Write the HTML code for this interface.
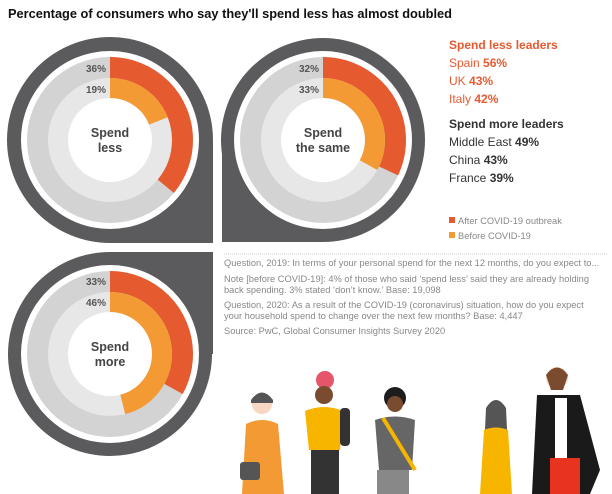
<!DOCTYPE html>
<html><head><meta charset="utf-8"><style>
body{margin:0;background:#fff;}
svg{display:block;font-family:"Liberation Sans",Arial,sans-serif;}
</style></head><body>
<svg width="612" height="494" viewBox="0 0 612 494" xmlns="http://www.w3.org/2000/svg">
<text x="8" y="18" font-size="12.8" font-weight="bold" fill="#111">Percentage of consumers who say they'll spend less has almost doubled</text>

<!-- chart 1 -->
<g fill="#5b5b5d"><circle cx="110" cy="140" r="103"/><rect x="110" y="140" width="103" height="103"/></g>
<circle cx="110" cy="140" r="89" fill="#fff"/>
<circle cx="110" cy="140" r="83" fill="#d3d3d4"/>
<circle cx="110" cy="140" r="62" fill="#e7e7e8"/>
<circle cx="110" cy="140" r="42" fill="#fff"/>
<circle cx="110" cy="140" r="72.5" fill="none" stroke="#e65a30" stroke-width="21" stroke-dasharray="164 1000" transform="rotate(-90 110 140)"/>
<circle cx="110" cy="140" r="52" fill="none" stroke="#f39a34" stroke-width="20" stroke-dasharray="62.1 1000" transform="rotate(-90 110 140)"/>
<text x="106" y="72" font-size="10" font-weight="bold" fill="#555" text-anchor="end">36%</text>
<text x="106" y="93" font-size="10" font-weight="bold" fill="#555" text-anchor="end">19%</text>
<text x="110" y="137" font-size="12.5" font-weight="bold" fill="#444" text-anchor="middle">Spend</text>
<text x="110" y="152" font-size="12.5" font-weight="bold" fill="#444" text-anchor="middle">less</text>

<!-- chart 2 -->
<g fill="#5b5b5d"><circle cx="323" cy="140" r="102"/><rect x="222" y="140" width="101" height="102"/></g>
<circle cx="323" cy="140" r="89" fill="#fff"/>
<circle cx="323" cy="140" r="83" fill="#d3d3d4"/>
<circle cx="323" cy="140" r="62" fill="#e7e7e8"/>
<circle cx="323" cy="140" r="42" fill="#fff"/>
<circle cx="323" cy="140" r="72.5" fill="none" stroke="#e65a30" stroke-width="21" stroke-dasharray="145.8 1000" transform="rotate(-90 323 140)"/>
<circle cx="323" cy="140" r="52" fill="none" stroke="#f39a34" stroke-width="20" stroke-dasharray="107.8 1000" transform="rotate(-90 323 140)"/>
<text x="319" y="72" font-size="10" font-weight="bold" fill="#555" text-anchor="end">32%</text>
<text x="319" y="93" font-size="10" font-weight="bold" fill="#555" text-anchor="end">33%</text>
<text x="323" y="137" font-size="12.5" font-weight="bold" fill="#444" text-anchor="middle">Spend</text>
<text x="323" y="152" font-size="12.5" font-weight="bold" fill="#444" text-anchor="middle">the same</text>

<!-- chart 3 -->
<g fill="#5b5b5d"><circle cx="110" cy="354" r="102"/><rect x="110" y="252" width="103" height="102"/></g>
<circle cx="110" cy="354" r="89" fill="#fff"/>
<circle cx="110" cy="354" r="83" fill="#d3d3d4"/>
<circle cx="110" cy="354" r="62" fill="#e7e7e8"/>
<circle cx="110" cy="354" r="42" fill="#fff"/>
<circle cx="110" cy="354" r="72.5" fill="none" stroke="#e65a30" stroke-width="21" stroke-dasharray="150.3 1000" transform="rotate(-90 110 354)"/>
<circle cx="110" cy="354" r="52" fill="none" stroke="#f39a34" stroke-width="20" stroke-dasharray="150.3 1000" transform="rotate(-90 110 354)"/>
<text x="106" y="285" font-size="10" font-weight="bold" fill="#555" text-anchor="end">33%</text>
<text x="106" y="306" font-size="10" font-weight="bold" fill="#555" text-anchor="end">46%</text>
<text x="110" y="351" font-size="12.5" font-weight="bold" fill="#444" text-anchor="middle">Spend</text>
<text x="110" y="366" font-size="12.5" font-weight="bold" fill="#444" text-anchor="middle">more</text>

<!-- right list -->
<g font-size="12">
<text x="449" y="49" font-weight="bold" fill="#e65a30">Spend less leaders</text>
<text x="449" y="67" fill="#e65a30">Spain <tspan font-weight="bold">56%</tspan></text>
<text x="449" y="85" fill="#e65a30">UK <tspan font-weight="bold">43%</tspan></text>
<text x="449" y="103" fill="#e65a30">Italy <tspan font-weight="bold">42%</tspan></text>
<text x="449" y="128" font-weight="bold" fill="#333">Spend more leaders</text>
<text x="449" y="146" fill="#333">Middle East <tspan font-weight="bold">49%</tspan></text>
<text x="449" y="164" fill="#333">China <tspan font-weight="bold">43%</tspan></text>
<text x="449" y="182" fill="#333">France <tspan font-weight="bold">39%</tspan></text>
</g>
<rect x="449" y="217" width="6" height="6" fill="#e65a30"/>
<text x="458" y="224" font-size="9.3" fill="#888">After COVID-19 outbreak</text>
<rect x="449" y="232" width="6" height="6" fill="#f39a34"/>
<text x="458" y="239" font-size="9.3" fill="#888">Before COVID-19</text>

<line x1="224" y1="254" x2="607" y2="254" stroke="#bbb" stroke-width="0.8" stroke-dasharray="1 1"/>
<g font-size="9.3" fill="#888">
<text x="224" y="266">Question, 2019: In terms of your personal spend for the next 12 months, do you expect to...</text>
<text x="224" y="282">Note [before COVID-19]: 4% of those who said ‘spend less’ said they are already holding</text>
<text x="224" y="293">back spending. 3% stated ‘don’t know.’ Base: 19,098</text>
<text x="224" y="308">Question, 2020: As a result of the COVID-19 (coronavirus) situation, how do you expect</text>
<text x="224" y="319">your household spend to change over the next few months? Base: 4,447</text>
<text x="224" y="334">Source: PwC, Global Consumer Insights Survey 2020</text>
</g>

<!-- people -->
<g>
<circle cx="262" cy="404" r="10" fill="#f7d7c4"/><path d="M251 400 Q262 385 273 400 L273 403 L251 403Z" fill="#555"/>
<path d="M246 424 Q262 416 278 424 L284 494 L242 494Z" fill="#f39a34"/>
<rect x="240" y="462" width="20" height="18" rx="3" fill="#555"/>
<circle cx="325" cy="380" r="9" fill="#e6556a"/><circle cx="324" cy="395" r="9" fill="#7a4b2e"/>
<path d="M305 411 Q324 403 343 411 L340 450 L309 450Z" fill="#f7b500"/>
<rect x="340" y="408" width="10" height="38" rx="4" fill="#333"/>
<rect x="311" y="450" width="28" height="44" fill="#333"/>
<circle cx="395" cy="398" r="11" fill="#1d1d1d"/><circle cx="395" cy="404" r="8" fill="#7a4b2e"/>
<path d="M375 420 Q395 413 415 420 L412 470 L379 470Z" fill="#666"/>
<rect x="377" y="470" width="32" height="24" fill="#888"/>
<path d="M383 418 L415 470" stroke="#f7b500" stroke-width="4"/>
<circle cx="496" cy="412" r="9" fill="#f7d7c4"/><path d="M486 408 Q496 392 506 408 L507 430 L485 430Z" fill="#555"/>
<path d="M484 430 Q496 425 508 430 L512 494 L480 494Z" fill="#f7b500"/>
<circle cx="557" cy="378" r="11" fill="#f7d7c4"/><path d="M546 375 Q557 360 568 375 L563 390 L551 390Z" fill="#7a4b2e"/>
<path d="M537 395 L580 395 L600 470 L590 494 L532 494Z" fill="#1a1a1a"/>
<rect x="555" y="398" width="12" height="60" fill="#fff"/>
<rect x="550" y="458" width="30" height="36" fill="#e8331f"/>
</g>
</svg>
</body></html>
